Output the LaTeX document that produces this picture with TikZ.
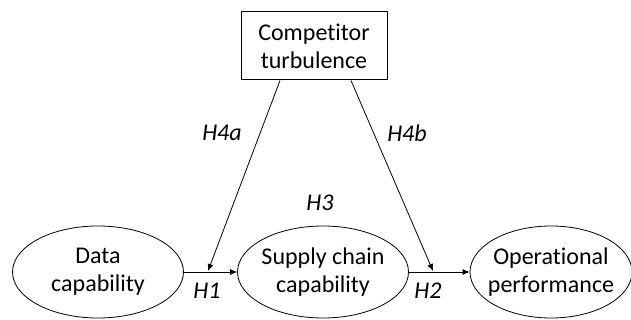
\documentclass[tikz,border=0pt]{standalone}
\usepackage{fontspec}
\setmainfont[Ligatures=NoCommon]{Carlito}
\usetikzlibrary{arrows.meta,shapes.geometric}
\begin{document}
\begin{tikzpicture}[x=1pt,y=-1pt,
  every node/.style={font=\fontsize{24}{28}\selectfont},
  ell/.style={draw, line width=0.8pt, ellipse, minimum width=171pt, minimum height=92pt, inner sep=-25pt, align=center},
  boxn/.style={draw, line width=1pt, minimum width=146pt, minimum height=68pt, align=center, inner sep=0pt},
  arr/.style={line width=0.8pt, -{Latex[length=7pt,width=6pt]}},
  lab/.style={font=\fontsize{24}{28}\selectfont\itshape}]
\useasboundingbox (0,0) rectangle (631,320);
\node[boxn] (ct) at (314,46) {Competitor\\turbulence};
\node[ell] (dc) at (98,272) {Data\\capability};
\node[ell] (sc) at (323,272) {Supply chain\\capability};
\node[ell, minimum width=162pt] (op) at (551,272) {Operational\\performance};
\draw[arr] (dc.east) -- (sc.west);
\draw[arr] (sc.east) -- (op.west);
\coordinate (a1) at ([xshift=-34pt]ct.south);
\coordinate (a2) at ([xshift=37pt]ct.south);
\coordinate (m1) at (208,271);
\coordinate (m2) at (433,271);
\draw[arr] (a1) -- (m1);
\draw[arr] (a2) -- (m2);
\node[lab] (h4a) at (222,133) {H4a};
\node[lab] (h4b) at (407,133) {H4b};
\node[lab] (h3) at (320,203) {H3};
\node[lab] (h1) at (207,291) {H1};
\node[lab] (h2) at (428,291) {H2};
\end{tikzpicture}
\end{document}
